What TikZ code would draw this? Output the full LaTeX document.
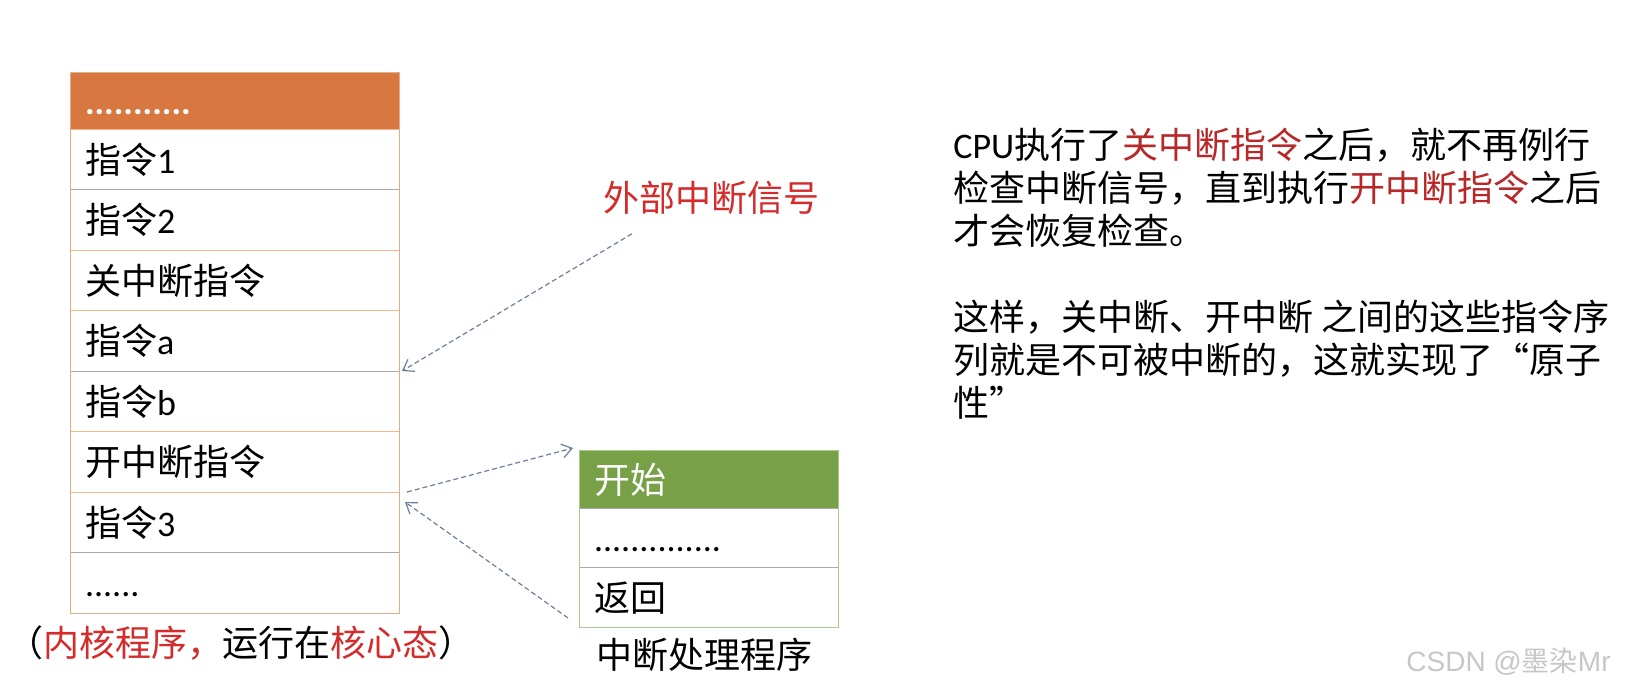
\documentclass[tikz,border=0pt]{standalone}
\usepackage{fontspec}
\setmainfont{Noto Sans CJK SC}
\newfontfamily\lat{Carlito}
\newfontfamily\wmfont{Liberation Sans}
\usetikzlibrary{positioning,arrows.meta}

\definecolor{hdrorange}{HTML}{D97740}
\definecolor{frameorange}{HTML}{E2AE88}
\definecolor{lineorange}{HTML}{F6B58A}
\definecolor{linegray}{HTML}{AAAAAA}
\definecolor{hdrgreen}{HTML}{77A047}
\definecolor{framegreen}{HTML}{A9CB8B}
\definecolor{capred}{HTML}{D42B2B}
\definecolor{txtred}{HTML}{B82828}
\definecolor{arrowblue}{HTML}{6C7F9C}

\tikzset{
	bigfont/.style = {font=\fontsize{18pt}{21.5pt}\selectfont},
	cell/.style = {bigfont, inner xsep=7.5pt, inner ysep=0pt, outer sep=0pt, align=left,
		text height=16pt, text depth=2pt, text width=149.5pt, minimum height=30.25pt},
	gcell/.style = {cell, text width=114.5pt, minimum height=29.75pt},
	sigline/.style = {arrowblue, line width=0.6pt, dash pattern=on 2.5pt off 1.5pt,
		-{Straight Barb[length=5pt,width=7pt]}}
}

\begin{document}
\begin{tikzpicture}[x = 0.5pt, y = -0.5pt]
	\useasboundingbox[fill = white] (0,0) rectangle (1635,690);
	% kernel program
	\node[cell, fill = hdrorange, text = white, minimum height = 28.5pt, anchor = north west] (hdr) at (70,72) {\lat\bfseries ...........};
	\node[cell, below = 0pt of hdr] (r1) {指令{\lat 1}};
	\node[cell, below = 0pt of r1] (r2) {指令{\lat 2}};
	\node[cell, below = 0pt of r2] (r3) {关中断指令};
	\node[cell, below = 0pt of r3] (r4) {指令{\lat a}};
	\node[cell, below = 0pt of r4] (r5) {指令{\lat b}};
	\node[cell, below = 0pt of r5] (r6) {开中断指令};
	\node[cell, below = 0pt of r6] (r7) {指令{\lat 3}};
	\node[cell, below = 0pt of r7] (r8) {\lat ......};
	\draw [lineorange] (hdr.south west) -- (hdr.south east);
	\draw [linegray] (r1.south west) -- (r1.south east);
	\draw [lineorange] (r2.south west) -- (r2.south east);
	\draw [lineorange] (r3.south west) -- (r3.south east);
	\draw [linegray] (r4.south west) -- (r4.south east);
	\draw [lineorange] (r5.south west) -- (r5.south east);
	\draw [lineorange] (r6.south west) -- (r6.south east);
	\draw [linegray] (r7.south west) -- (r7.south east);
	\draw [frameorange] (hdr.north west) rectangle (r8.south east);
	\node[bigfont] (kcap) at (241,643) {（\textcolor{capred}{内核程序，}运行在\textcolor{capred}{核心态}）};
	% interrupt handler
	\node[gcell, fill = hdrgreen, text = white, minimum height = 29pt, anchor = north west] (go) at (579,450) {开始};
	\node[gcell, below = 0pt of go] (dots) {\lat ..............};
	\node[gcell, below = 0pt of dots] (ret) {返回};
	\draw [linegray] (go.south west) -- (go.south east);
	\draw [linegray] (dots.south west) -- (dots.south east);
	\draw [framegreen] (go.north west) rectangle (ret.south east);
	\node[bigfont] (hcap) at (704,655) {中断处理程序};
	% signal
	\node[bigfont, text = capred] (sig) at (711,198) {外部中断信号};
	\draw [sigline] ([xshift = 18pt, yshift = -6pt]sig.south west) -- ([xshift = 1.5pt]r4.south east);
	\draw [sigline] ([xshift = 4pt]r6.south east) -- ([xshift = -3pt, yshift = 1pt]go.north west);
	\draw [sigline] ([xshift = -5.5pt, yshift = 4.5pt]ret.south west) -- ([xshift = 3pt, yshift = -5pt]r7.north east);
	% explanation
	\node[bigfont, align = left, anchor = north west, inner sep = 0pt] (note) at (953,128) {{\lat CPU}执行了\textcolor{txtred}{关中断指令}之后，就不再例行\\
		检查中断信号，直到执行\textcolor{txtred}{开中断指令}之后\\
		才会恢复检查。\\[21.5pt]
		这样，关中断、开中断 之间的这些指令序\\
		列就是不可被中断的，这就实现了“原子\\
		性”};
	\node[font = \wmfont\fontsize{14pt}{16pt}\selectfont, text = black!22, anchor = west, inner sep = 0pt] (wm) at (1406,662) {CSDN @{\rmfamily 墨染}Mr};
\end{tikzpicture}
\end{document}
